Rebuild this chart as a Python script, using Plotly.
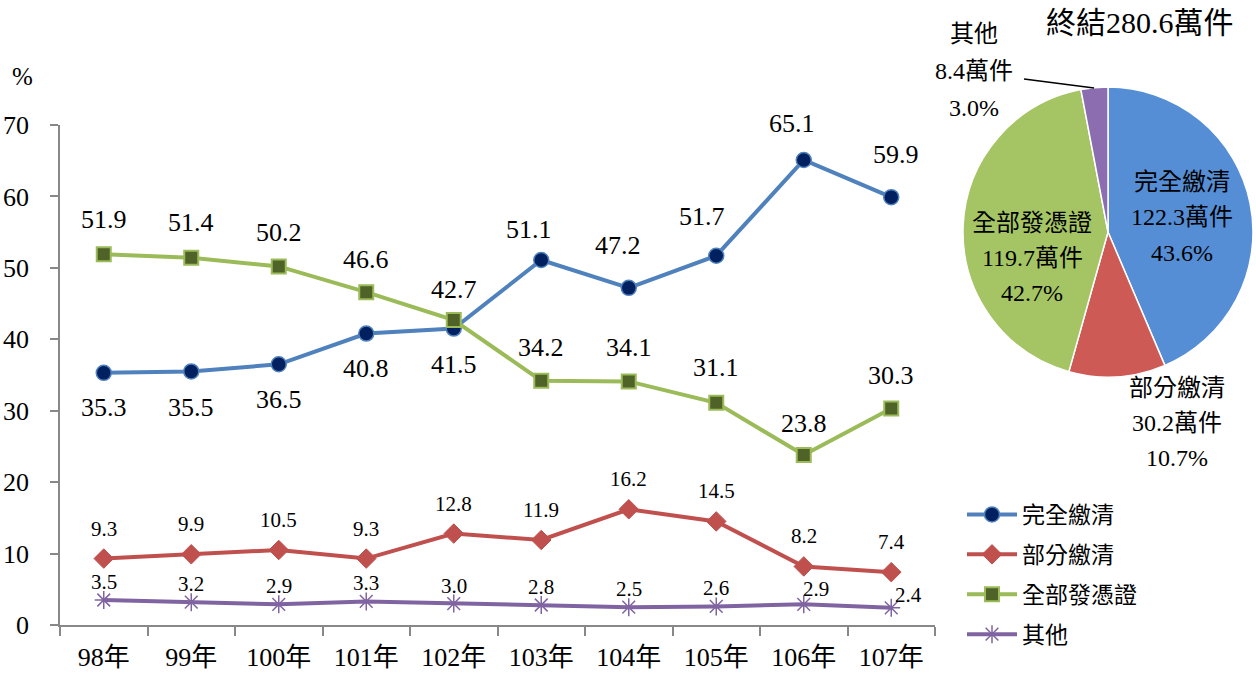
import plotly.graph_objects as go

# ---------------- data ----------------
years = ["98年", "99年", "100年", "101年", "102年", "103年", "104年", "105年", "106年", "107年"]
full_paid = [35.3, 35.5, 36.5, 40.8, 41.5, 51.1, 47.2, 51.7, 65.1, 59.9]
part_paid = [9.3, 9.9, 10.5, 9.3, 12.8, 11.9, 16.2, 14.5, 8.2, 7.4]
all_cert = [51.9, 51.4, 50.2, 46.6, 42.7, 34.2, 34.1, 31.1, 23.8, 30.3]
others = [3.5, 3.2, 2.9, 3.3, 3.0, 2.8, 2.5, 2.6, 2.9, 2.4]

series_names = ["完全繳清", "部分繳清", "全部發憑證", "其他"]
pie_values = [122.3, 30.2, 119.7, 8.4]      # 萬件
pie_pcts = [43.6, 10.7, 42.7, 3.0]          # %
y_ticks = [0, 10, 20, 30, 40, 50, 60, 70]

# ---------------- styles ----------------
W, H = 1256, 673
FONT = "Liberation Serif, 'Times New Roman', 'Noto Sans CJK TC', serif"
BLUE, RED, GREEN, PURPLE = "#4F81BD", "#C0504D", "#9BBB59", "#8064A2"
PIE_COLORS = ["#558ED5", "#CD5A55", "#A5C564", "#8B6DB0"]


def px(x):
    return x / W


def py(y):
    return 1 - y / H


fig = go.Figure()

line_specs = [
    (series_names[0], full_paid, BLUE, dict(symbol="circle", size=15, color="#002060", line=dict(color=BLUE, width=1.5))),
    (series_names[1], part_paid, RED, dict(symbol="diamond", size=15, color=RED, line=dict(color=RED, width=1))),
    (series_names[2], all_cert, GREEN, dict(symbol="square", size=14, color="#4F6228", line=dict(color=GREEN, width=2))),
    (series_names[3], others, PURPLE, dict(symbol="asterisk-open", size=15, color=PURPLE, line=dict(color=PURPLE, width=1.5))),
]

for i, (name, vals, col, mk) in enumerate(line_specs):
    fig.add_trace(go.Scatter(
        x=years, y=vals, name=name, mode="lines+markers",
        line=dict(color=col, width=4), marker=mk,
        legendgroup=f"g{i}", xaxis="x", yaxis="y",
    ))

# data label offsets (dx, dy in px; dy>0 = up)
label_offsets = {
    0: [(0, -35), (0, -36), (0, -35), (0, -35), (0, -36), (-12, 31), (-11, 42), (-14, 39), (-12, 37), (5, 43)],
    1: [(0, 30)] * 10,
    2: [(0, 35), (0, 35), (0, 34), (0, 33), (0, 31), (0, 33), (0, 34), (0, 35), (0, 32), (0, 33)],
    3: [(0, 18), (0, 18), (0, 18), (0, 18), (0, 18), (0, 18), (0, 18), (0, 18), (12, 15), (17, 13)],
}
label_sizes = {0: 26, 1: 21, 2: 26, 3: 21}

annotations = []
for i, (name, vals, col, mk) in enumerate(line_specs):
    for j, v in enumerate(vals):
        dx, dy = label_offsets[i][j]
        annotations.append(dict(
            x=years[j], y=v, xref="x", yref="y", text=f"{v:.1f}", showarrow=False,
            xshift=dx, yshift=dy, font=dict(family=FONT, size=label_sizes[i], color="black"),
            xanchor="center", yanchor="middle",
        ))

# ---------------- pie ----------------
pie_left, pie_right, pie_top, pie_bottom = 963, 1253, 87, 377
fig.add_trace(go.Pie(
    labels=series_names, values=pie_values, sort=False, direction="clockwise", rotation=0,
    marker=dict(colors=PIE_COLORS, line=dict(color="white", width=1.5)),
    textinfo="none", showlegend=False,
    domain=dict(x=[px(pie_left), px(pie_right)], y=[py(pie_bottom), py(pie_top)]),
))

# pie labels: (center x, first-line y), line spacing
pie_label_pos = [(1182, 182), (1177, 388), (1032, 223), (974, 34)]
pie_line_gap = [35.5, 35, 35, 37]
for k in range(4):
    lines = [series_names[k], f"{pie_values[k]}萬件", f"{pie_pcts[k]:.1f}%"]
    cx, cy = pie_label_pos[k]
    for m, t in enumerate(lines):
        annotations.append(dict(
            x=px(cx), y=py(cy + m * pie_line_gap[k]), xref="paper", yref="paper",
            text=t, showarrow=False, xanchor="center", yanchor="middle",
            font=dict(family=FONT, size=24, color="black"),
        ))

total = round(sum(pie_values), 1)
annotations.append(dict(
    x=px(1140), y=py(23), xref="paper", yref="paper", text=f"終結{total}萬件",
    showarrow=False, xanchor="center", yanchor="middle",
    font=dict(family=FONT, size=30, color="black"),
))

# y axis unit
annotations.append(dict(
    x=px(22), y=py(76), xref="paper", yref="paper", text="%", showarrow=False,
    xanchor="center", yanchor="middle", font=dict(family=FONT, size=25, color="black"),
))

shapes = [dict(type="line", xref="paper", yref="paper", x0=px(1024), y0=py(79), x1=px(1094), y1=py(88),
               line=dict(color="black", width=1.5))]

fig.update_layout(
    width=W, height=H,
    margin=dict(l=0, r=0, t=0, b=0, autoexpand=False),
    paper_bgcolor="white", plot_bgcolor="white",
    font=dict(family=FONT, size=24, color="black"),
    xaxis=dict(
        domain=[px(60), px(935)], type="category", range=[-0.5, 9.5], automargin=False,
        showline=True, linecolor="#888888", linewidth=1.5,
        ticks="outside", tickson="boundaries", ticklen=9, tickcolor="#888888", tickwidth=1.5,
        tickfont=dict(family=FONT, size=26, color="black"), ticklabelstandoff=8,
        showgrid=False, zeroline=False, fixedrange=True,
    ),
    yaxis=dict(
        domain=[py(625), py(125)], range=[0, 70], tickvals=y_ticks, automargin=False,
        showline=True, linecolor="#888888", linewidth=1.5,
        ticks="outside", ticklen=8, tickcolor="#888888", tickwidth=1.5,
        tickfont=dict(family=FONT, size=26, color="black"), ticklabelstandoff=16,
        showgrid=False, zeroline=False, fixedrange=True,
    ),
    legend=dict(
        x=px(962), y=py(493), xanchor="left", yanchor="top",
        font=dict(family=FONT, size=23, color="black"),
        traceorder="grouped", tracegroupgap=7, bgcolor="rgba(0,0,0,0)",
        itemwidth=50,
    ),
    annotations=annotations,
    shapes=shapes,
)

fig.write_html(
    "out.html",
    config={"displayModeBar": False},
    post_script="document.body.style.margin='0';document.body.style.overflow='hidden';",
)
